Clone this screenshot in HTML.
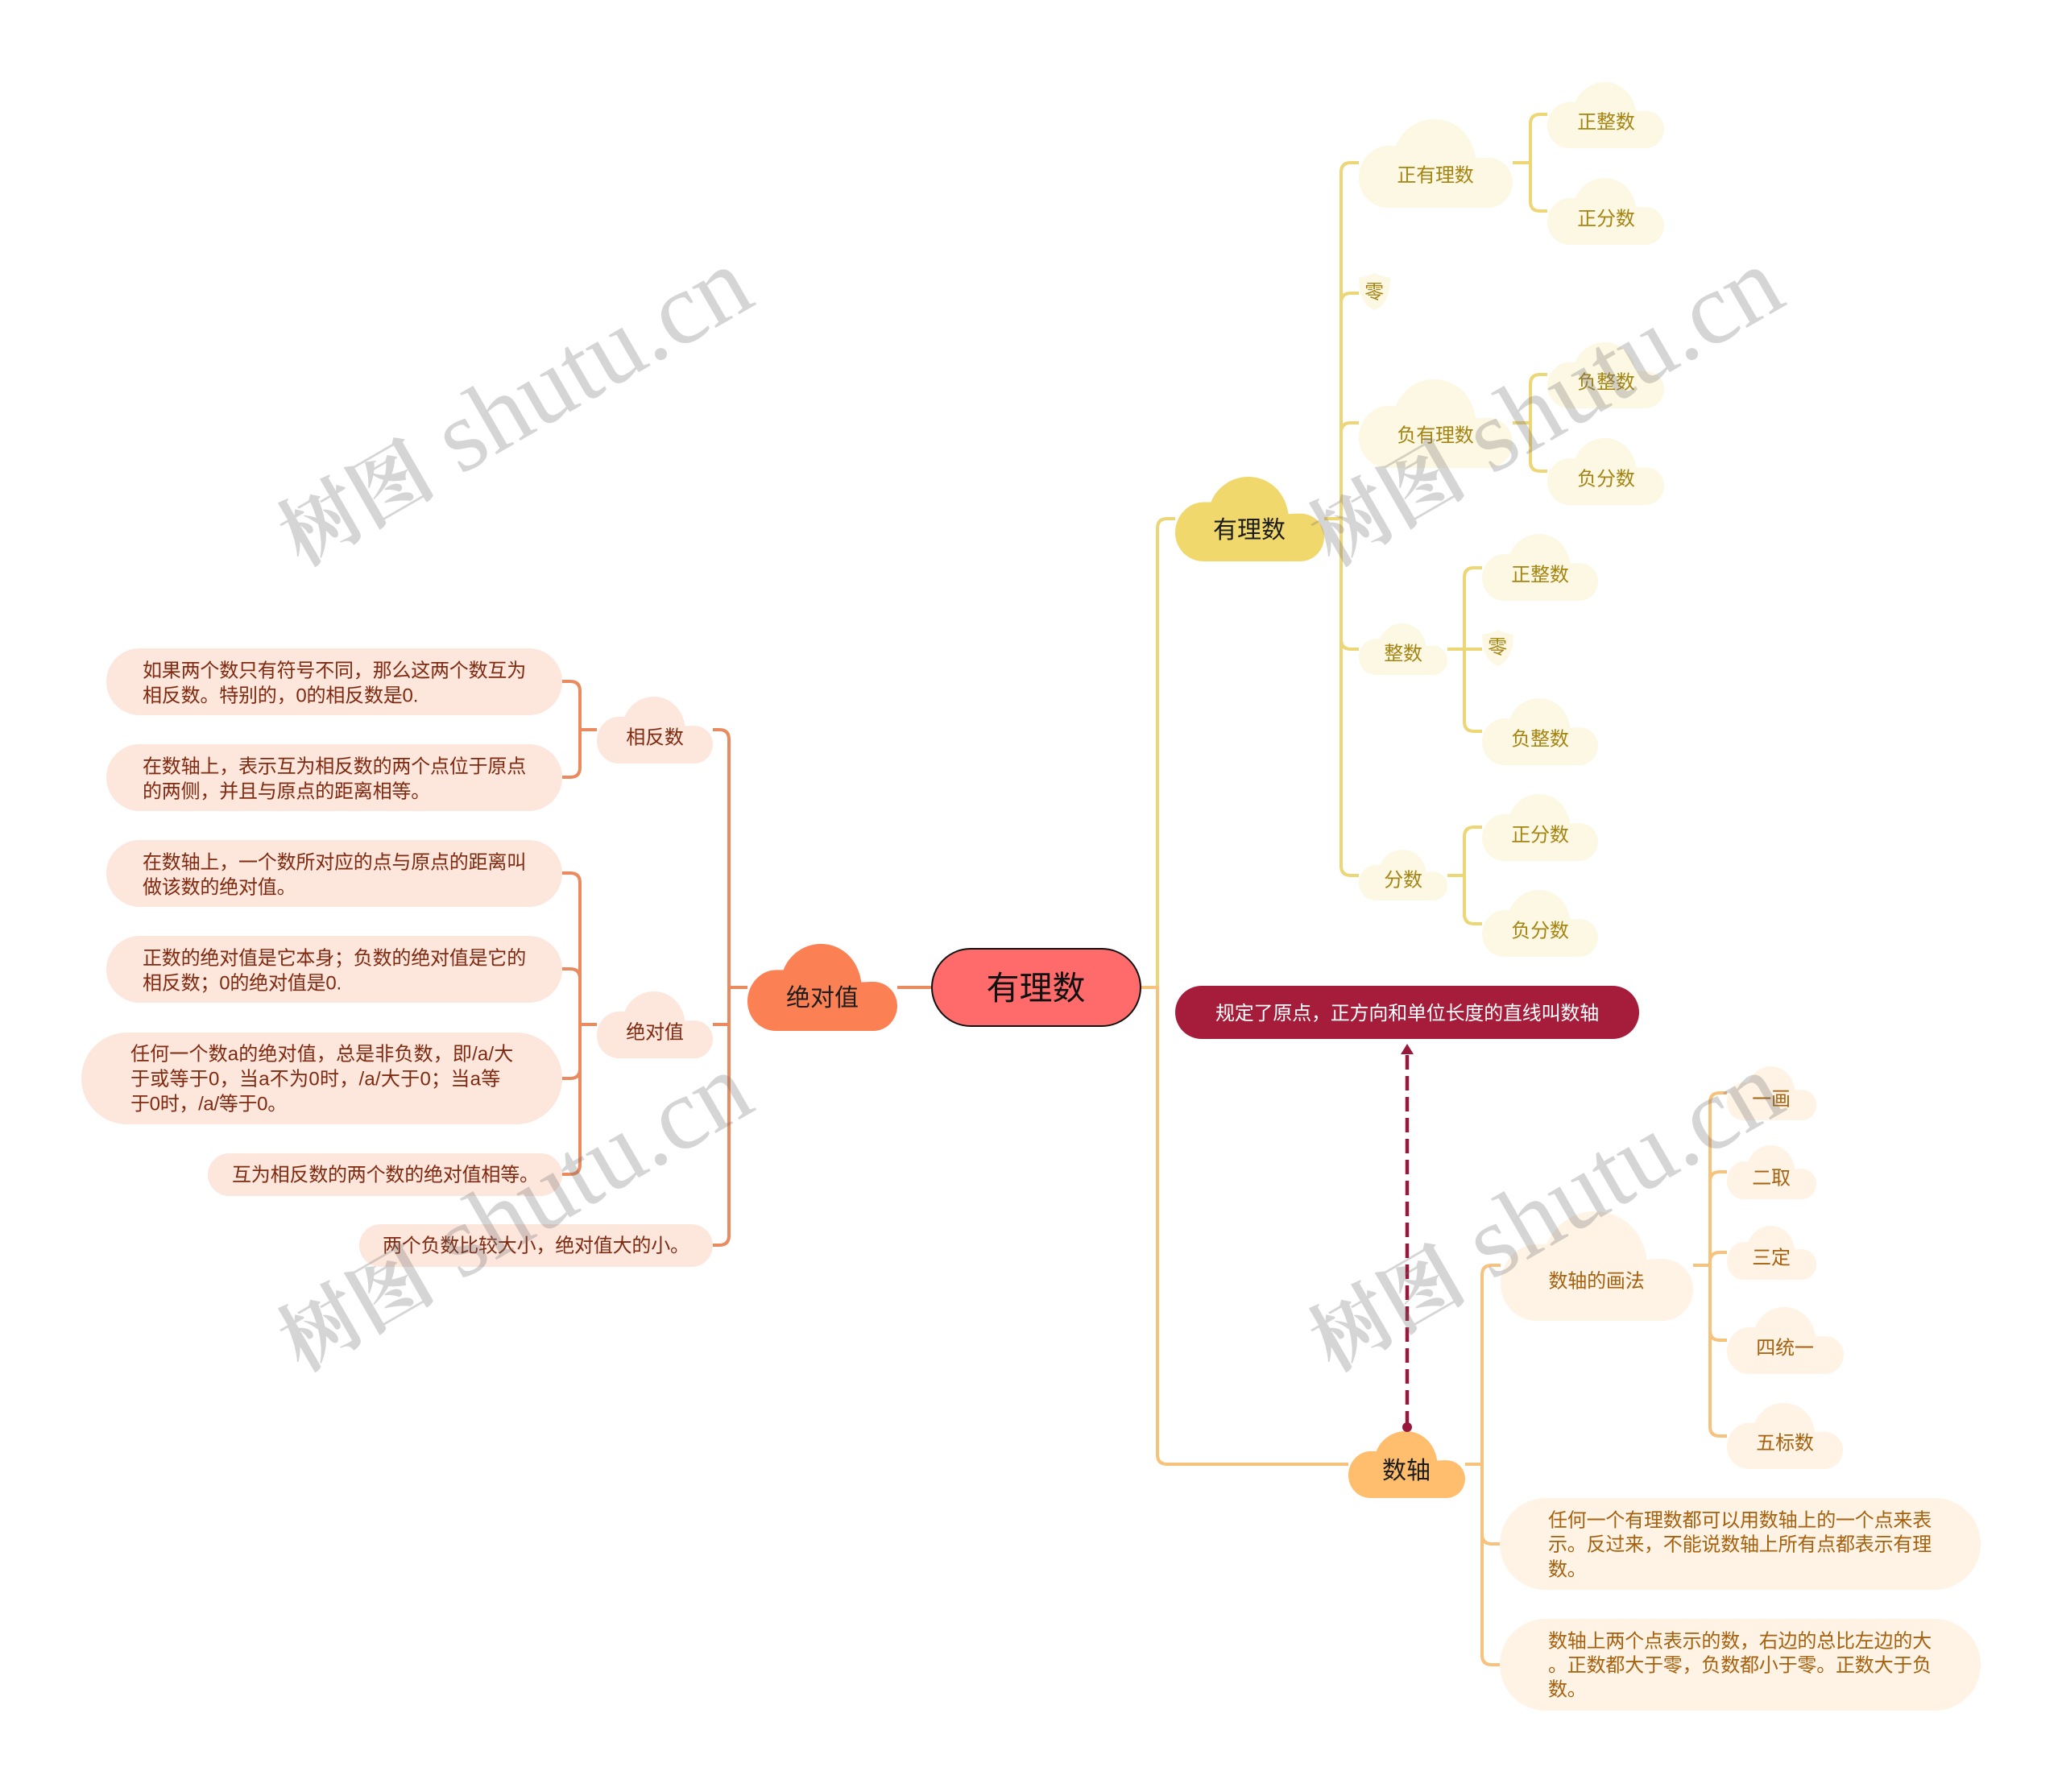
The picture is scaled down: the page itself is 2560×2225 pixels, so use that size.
<!DOCTYPE html>
<html lang="zh-CN">
<head>
<meta charset="utf-8">
<title>有理数</title>
<style>
html,body{margin:0;padding:0;background:#fff;}
body{width:2560px;height:2225px;overflow:hidden;}
svg{display:block;}
text{font-family:"Liberation Sans","Noto Sans CJK SC",sans-serif;font-size:24px;}
.y,.p,.pc,.o,.oc{letter-spacing:-.2px;transform:translateY(-.4px);}
.m{transform:translateY(-1px);}
.y{fill:#A58412;text-anchor:middle;}
.p{fill:#A5610F;}
.pc{fill:#A5610F;text-anchor:middle;}
.o{fill:#7F2A10;}
.oc{fill:#7F2A10;text-anchor:middle;}
.m{fill:#1c1c1c;font-size:30px;text-anchor:middle;}
.wm{font-family:"Liberation Serif","Noto Serif CJK SC",serif;font-size:127px;fill:rgb(110,110,110);fill-opacity:.29;}
.wc{font-size:98px;font-weight:700;}
.l{fill:none;stroke-width:4;}
.ly{stroke:#EDD676;}
.lp{stroke:#F7C27C;}
.lo{stroke:#E98B5F;}
</style>
</head>
<body>
<svg xmlns="http://www.w3.org/2000/svg" width="2560" height="2225" viewBox="0 0 2560 2225">
<defs>
<symbol id="c" viewBox="0 0 100 100" preserveAspectRatio="none">
<path d="M19 100C8.500 100 0 85 0 66C0 46 9 30 19 30L24 30C28 12 38 0 49 0C63 0 74 18 76 44C78.500 43.800 81 43.500 84 43.500C93 43.500 100 56 100 71C100 87 93 100 84 100Z"/>
</symbol>
<symbol id="s" viewBox="0 0 100 100" preserveAspectRatio="none">
<path d="M50 0C65 8 85 10 100 13C100 55 85 90 50 100C15 90 0 55 0 13C15 10 35 8 50 0Z"/>
</symbol>
</defs>

<!-- connectors -->
<path class="l ly" d="M1437 1226V656Q1437 644 1449 644H1459"/>
<path class="l lp" d="M1416 1226H1437V1806Q1437 1818 1449 1818H1674"/>
<path class="l lo" d="M1156 1226H1114"/>
<path class="l ly" d="M1644 644H1665"/>
<path class="l ly" d="M1687 202H1677Q1665 202 1665 214V1075Q1665 1087 1677 1087H1687"/>
<path class="l ly" d="M1687 364H1677Q1665 364 1665 376"/>
<path class="l ly" d="M1687 525H1677Q1665 525 1665 537"/>
<path class="l ly" d="M1687 806H1677Q1665 806 1665 794"/>
<path class="l ly" d="M1878 202H1900"/>
<path class="l ly" d="M1921 142H1912Q1900 142 1900 154V250Q1900 262 1912 262H1921"/>
<path class="l ly" d="M1878 525H1900"/>
<path class="l ly" d="M1921 465H1912Q1900 465 1900 477V573Q1900 585 1912 585H1921"/>
<path class="l ly" d="M1797 806H1840"/>
<path class="l ly" d="M1840 705H1830Q1818 705 1818 717V896Q1818 908 1830 908H1840"/>
<path class="l ly" d="M1797 1087H1818"/>
<path class="l ly" d="M1840 1027H1830Q1818 1027 1818 1039V1135Q1818 1147 1830 1147H1840"/>

<path class="l lo" d="M928 1226H905"/>
<path class="l lo" d="M885 906H893Q905 906 905 918V1534Q905 1546 893 1546H885"/>
<path class="l lo" d="M885 1272H905"/>
<path class="l lo" d="M698 846H708Q720 846 720 858V953Q720 965 708 965H698"/>
<path class="l lo" d="M741 906H720"/>
<path class="l lo" d="M698 1084H708Q720 1084 720 1096V1446Q720 1458 708 1458H698"/>
<path class="l lo" d="M698 1203H708Q720 1203 720 1215"/>
<path class="l lo" d="M698 1339H708Q720 1339 720 1327"/>
<path class="l lo" d="M741 1272H720"/>

<path class="l lp" d="M1819 1818H1840"/>
<path class="l lp" d="M1863 1571H1852Q1840 1571 1840 1583V2055Q1840 2067 1852 2067H1862"/>
<path class="l lp" d="M1862 1917H1852Q1840 1917 1840 1905"/>
<path class="l lp" d="M2102 1571H2123"/>
<path class="l lp" d="M2144 1357H2135Q2123 1357 2123 1369V1771Q2123 1783 2135 1783H2144"/>
<path class="l lp" d="M2144 1455H2135Q2123 1455 2123 1467"/>
<path class="l lp" d="M2144 1555H2135Q2123 1555 2123 1567"/>
<path class="l lp" d="M2144 1664H2135Q2123 1664 2123 1652"/>

<!-- root -->
<rect x="1157" y="1178" width="259" height="96" rx="48" fill="#FF6B6B" stroke="#111" stroke-width="2"/>
<text x="1286" y="1241" fill="#111" text-anchor="middle" style="font-size:41px">有理数</text>

<!-- main clouds -->
<use href="#c" x="1459" y="592" width="185" height="105" fill="#F0D86D"/>
<text class="m" x="1551" y="669">有理数</text>
<use href="#c" x="928" y="1172" width="186" height="108" fill="#FB8054"/>
<text class="m" x="1021" y="1250">绝对值</text>
<use href="#c" x="1674" y="1777" width="145" height="83" fill="#FFBE6E"/>
<text class="m" x="1746" y="1837">数轴</text>

<!-- yellow children -->
<g fill="#FDF8E3">
<use href="#c" x="1687" y="148" width="191" height="110"/>
<use href="#c" x="1921" y="102" width="145" height="82"/>
<use href="#c" x="1921" y="221" width="145" height="83"/>
<use href="#s" x="1687" y="339" width="39" height="46"/>
<use href="#c" x="1687" y="471" width="191" height="110"/>
<use href="#c" x="1921" y="425" width="145" height="82"/>
<use href="#c" x="1921" y="544" width="145" height="83"/>
<use href="#c" x="1687" y="774" width="110" height="64"/>
<use href="#c" x="1840" y="663" width="144" height="83"/>
<use href="#s" x="1840" y="782" width="39" height="45"/>
<use href="#c" x="1840" y="867" width="144" height="83"/>
<use href="#c" x="1687" y="1055" width="110" height="63"/>
<use href="#c" x="1840" y="986" width="144" height="83"/>
<use href="#c" x="1840" y="1105" width="144" height="83"/>
</g>
<text class="y" x="1782" y="226">正有理数</text>
<text class="y" x="1994" y="160">正整数</text>
<text class="y" x="1994" y="280">正分数</text>
<text class="y" x="1706" y="371">零</text>
<text class="y" x="1782" y="549">负有理数</text>
<text class="y" x="1994" y="483">负整数</text>
<text class="y" x="1994" y="603">负分数</text>
<text class="y" x="1742" y="820">整数</text>
<text class="y" x="1912" y="722">正整数</text>
<text class="y" x="1859" y="812">零</text>
<text class="y" x="1912" y="926">负整数</text>
<text class="y" x="1742" y="1101">分数</text>
<text class="y" x="1912" y="1045">正分数</text>
<text class="y" x="1912" y="1164">负分数</text>

<!-- orange side -->
<g fill="#FDE6DC">
<use href="#c" x="741" y="865" width="144" height="83"/>
<use href="#c" x="741" y="1231" width="144" height="83"/>
<rect x="132" y="805" width="566" height="83" rx="41.500"/>
<rect x="132" y="924" width="566" height="83" rx="41.500"/>
<rect x="132" y="1043" width="566" height="83" rx="41.500"/>
<rect x="132" y="1162" width="566" height="83" rx="41.500"/>
<rect x="101" y="1282" width="597" height="114" rx="57"/>
<rect x="258" y="1432" width="440" height="53" rx="26.500"/>
<rect x="446" y="1520" width="439" height="53" rx="26.500"/>
</g>
<text class="oc" x="813" y="924">相反数</text>
<text class="oc" x="813" y="1290">绝对值</text>
<text class="o" x="177" y="841">如果两个数只有符号不同，那么这两个数互为</text>
<text class="o" x="177" y="872">相反数。特别的，0的相反数是0.</text>
<text class="o" x="177" y="960">在数轴上，表示互为相反数的两个点位于原点</text>
<text class="o" x="177" y="991">的两侧，并且与原点的距离相等。</text>
<text class="o" x="177" y="1079">在数轴上，一个数所对应的点与原点的距离叫</text>
<text class="o" x="177" y="1110">做该数的绝对值。</text>
<text class="o" x="177" y="1198">正数的绝对值是它本身；负数的绝对值是它的</text>
<text class="o" x="177" y="1229">相反数；0的绝对值是0.</text>
<text class="o" x="162" y="1317" textLength="475">任何一个数a的绝对值，总是非负数，即/a/大</text>
<text class="o" x="162" y="1348" textLength="459">于或等于0，当a不为0时，/a/大于0；当a等</text>
<text class="o" x="162" y="1379" textLength="194">于0时，/a/等于0。</text>
<text class="o" x="288" y="1467">互为相反数的两个数的绝对值相等。</text>
<text class="o" x="475" y="1555">两个负数比较大小，绝对值大的小。</text>

<!-- peach side -->
<g fill="#FEF3E4">
<use href="#c" x="1863" y="1504" width="239" height="136"/>
<use href="#c" x="2144" y="1324" width="111" height="67"/>
<use href="#c" x="2144" y="1422" width="111" height="67"/>
<use href="#c" x="2144" y="1522" width="111" height="67"/>
<use href="#c" x="2144" y="1623" width="145" height="83"/>
<use href="#c" x="2144" y="1742" width="144" height="82"/>
<rect x="1862" y="1860" width="597" height="114" rx="57"/>
<rect x="1862" y="2010" width="597" height="114" rx="57"/>
</g>
<text class="pc" x="1982" y="1599">数轴的画法</text>
<text class="pc" x="2199" y="1373">一画</text>
<text class="pc" x="2199" y="1471">二取</text>
<text class="pc" x="2199" y="1570">三定</text>
<text class="pc" x="2216" y="1682">四统一</text>
<text class="pc" x="2216" y="1800">五标数</text>
<text class="p" x="1922" y="1896">任何一个有理数都可以用数轴上的一个点来表</text>
<text class="p" x="1922" y="1926">示。反过来，不能说数轴上所有点都表示有理</text>
<text class="p" x="1922" y="1957">数。</text>
<text class="p" x="1922" y="2046">数轴上两个点表示的数，右边的总比左边的大</text>
<text class="p" x="1922" y="2076">。正数都大于零，负数都小于零。正数大于负</text>
<text class="p" x="1922" y="2106">数。</text>

<!-- summary node and dashed link -->
<rect x="1459" y="1224" width="576" height="66" rx="33" fill="#A51D3A"/>
<text x="1747" y="1266" fill="#fff" text-anchor="middle" style="letter-spacing:-.2px">规定了原点，正方向和单位长度的直线叫数轴</text>
<path d="M1747 1770V1310" fill="none" stroke="#98183C" stroke-width="4.500" stroke-dasharray="18 8"/>
<path d="M1747 1296L1755 1309H1739Z" fill="#98183C"/>
<circle cx="1747" cy="1772" r="6" fill="#98183C"/>

<!-- watermarks -->
<text class="wm" transform="translate(374 704) rotate(-30)"><tspan class="wc">树图</tspan> shutu.cn</text>
<text class="wm" transform="translate(1654 704) rotate(-30)"><tspan class="wc">树图</tspan> shutu.cn</text>
<text class="wm" transform="translate(374 1704) rotate(-30)"><tspan class="wc">树图</tspan> shutu.cn</text>
<text class="wm" transform="translate(1654 1704) rotate(-30)"><tspan class="wc">树图</tspan> shutu.cn</text>
</svg>
</body>
</html>
